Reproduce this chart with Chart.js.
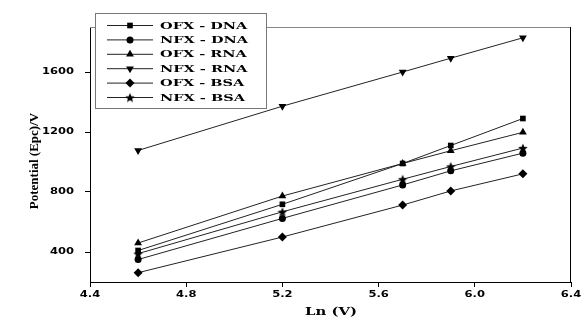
<!DOCTYPE html>
<html>
<head>
<meta charset="utf-8">
<script src="https://cdn.jsdelivr.net/npm/chart.js@4/dist/chart.umd.min.js"></script>
<style>
  html, body { margin: 0; padding: 0; background: #fff; }
  canvas { display: block; }
</style>
</head>
<body>
<canvas id="chart" width="581" height="320"></canvas>
<script>
// x values (Ln V) and peak potentials
const lnV = [4.6, 5.2, 5.7, 5.9, 6.2];
const ofxDna = [410, 718, 990, 1110, 1290];
const nfxDna = [350, 624, 847, 941, 1059];
const ofxRna = [460, 773, 990, 1075, 1198];
const nfxRna = [1077, 1372, 1600, 1692, 1828];
const ofxBsa = [262, 500, 713, 807, 921];
const nfxBsa = [389, 668, 885, 970, 1093];
const seriesNames = ['OFX - DNA', 'NFX - DNA', 'OFX - RNA', 'NFX - RNA', 'OFX - BSA', 'NFX - BSA'];
const xTickValues = [4.4, 4.8, 5.2, 5.6, 6.0, 6.4];
const yTickValues = [400, 800, 1200, 1600];

// filled five point star for the NFX - BSA marker
function makeStar(size) {
    const c = document.createElement('canvas');
    c.width = size; c.height = size;
    const g = c.getContext('2d');
    const cx = size / 2, cy = size / 2 + 0.5, R = size / 2, r = R * 0.45;
    g.beginPath();
    for (let i = 0; i < 10; i++) {
        const rad = i % 2 === 0 ? R : r;
        const a = -Math.PI / 2 + i * Math.PI / 5;
        g.lineTo(cx + rad * Math.cos(a), cy + rad * Math.sin(a));
    }
    g.closePath();
    g.fillStyle = '#000';
    g.fill();
    return c;
}
const star = makeStar(10);

const markers = [
    { pointStyle: 'rect', radius: 4, rotation: 0 },
    { pointStyle: 'circle', radius: 3.5, rotation: 0 },
    { pointStyle: 'triangle', radius: 4.5, rotation: 0 },
    { pointStyle: 'triangle', radius: 4.5, rotation: 180 },
    { pointStyle: 'rectRot', radius: 4.5, rotation: 0 },
    { pointStyle: star, radius: 5, rotation: 0 }
];
const allSeries = [ofxDna, nfxDna, ofxRna, nfxRna, ofxBsa, nfxBsa];

const datasets = allSeries.map((vals, i) => ({
    label: seriesNames[i],
    data: vals.map((v, j) => ({ x: lnV[j], y: v })),
    showLine: true,
    borderColor: '#222',
    borderWidth: 1,
    backgroundColor: '#000',
    pointBackgroundColor: '#000',
    pointBorderColor: '#000',
    pointBorderWidth: 0,
    pointStyle: markers[i].pointStyle,
    pointRadius: markers[i].radius,
    pointRotation: markers[i].rotation
}));

// draws text stretched sideways like the original figure
function wideText(ctx, text, x, y, font, sx, align) {
    ctx.save();
    ctx.translate(x, y);
    ctx.scale(sx, 1);
    ctx.font = font;
    ctx.fillStyle = '#000';
    ctx.textAlign = align;
    ctx.textBaseline = 'middle';
    ctx.fillText(text, 0, 0);
    ctx.restore();
}

const framePlugin = {
    id: 'frame',
    beforeDatasetsDraw(chart) {
        const { ctx, chartArea: a } = chart;
        ctx.save();
        ctx.lineWidth = 1;
        ctx.strokeStyle = '#888';
        ctx.beginPath();
        ctx.moveTo(a.left, a.top + 0.5);
        ctx.lineTo(a.right, a.top + 0.5);
        ctx.stroke();
        ctx.strokeStyle = '#000';
        ctx.beginPath();
        ctx.moveTo(a.right - 0.5, a.top);
        ctx.lineTo(a.right - 0.5, a.bottom);
        ctx.stroke();
        ctx.restore();
    },
    afterDraw(chart) {
        const { ctx } = chart;
        const xs = chart.scales.x, ys = chart.scales.y;
        ys.ticks.forEach(t => {
            wideText(ctx, String(t.value), 74, ys.getPixelForValue(t.value), 'bold 9px "DejaVu Sans"', 1.28, 'right');
        });
        xs.ticks.forEach(t => {
            wideText(ctx, t.value.toFixed(1), xs.getPixelForValue(t.value), 295, 'bold 9px "DejaVu Sans"', 1.28, 'center');
        });
        wideText(ctx, 'Ln (V)', 331, 312, 'bold 11px "DejaVu Serif"', 1.35, 'center');

        ctx.save();
        ctx.translate(35, 161);
        ctx.rotate(-Math.PI / 2);
        ctx.font = 'bold 13px "Liberation Serif"';
        ctx.fillStyle = '#000';
        ctx.textAlign = 'center';
        ctx.textBaseline = 'middle';
        ctx.fillText('Potential (Epc)/V', 0, 0);
        ctx.restore();

        // legend box
        ctx.save();
        ctx.fillStyle = '#fff';
        ctx.fillRect(95, 13, 172, 96);
        ctx.strokeStyle = '#777';
        ctx.lineWidth = 1;
        ctx.strokeRect(95.5, 13.5, 171, 95);
        chart.data.datasets.forEach((ds, i) => {
            const y = 25 + i * 14.4;
            ctx.strokeStyle = '#222';
            ctx.beginPath();
            ctx.moveTo(107, y + 0.5);
            ctx.lineTo(153, y + 0.5);
            ctx.stroke();
            ctx.fillStyle = '#000';
            Chart.helpers.drawPoint(ctx, {
                pointStyle: ds.pointStyle,
                radius: ds.pointRadius,
                rotation: ds.pointRotation,
                borderWidth: 0
            }, 130, y + 0.5);
            wideText(ctx, ds.label, 160, y + 1, 'bold 10px "DejaVu Serif"', 1.45, 'left');
        });
        ctx.restore();
    }
};

const ctx = document.getElementById('chart').getContext('2d');
new Chart(ctx, {
    type: 'scatter',
    data: { datasets: datasets },
    options: {
        responsive: false,
        animation: false,
        layout: { padding: { top: 27, right: 10, left: 0, bottom: 0 } },
        plugins: { legend: { display: false }, tooltip: { enabled: false } },
        scales: {
            x: {
                type: 'linear',
                min: 4.4,
                max: 6.4,
                afterBuildTicks: s => { s.ticks = xTickValues.map(v => ({ value: v })); },
                afterFit: s => { s.height = 38; },
                ticks: { display: false },
                grid: { drawOnChartArea: false, drawTicks: true, tickLength: 5, color: '#000' },
                border: { display: true, color: '#000', width: 1 }
            },
            y: {
                type: 'linear',
                min: 200,
                max: 1900,
                afterBuildTicks: s => { s.ticks = yTickValues.map(v => ({ value: v })); },
                afterFit: s => { s.width = 90; },
                ticks: { display: false },
                grid: { drawOnChartArea: false, drawTicks: true, tickLength: 5, color: '#000' },
                border: { display: true, color: '#000', width: 1 }
            }
        }
    },
    plugins: [framePlugin]
});
</script>
</body>
</html>
